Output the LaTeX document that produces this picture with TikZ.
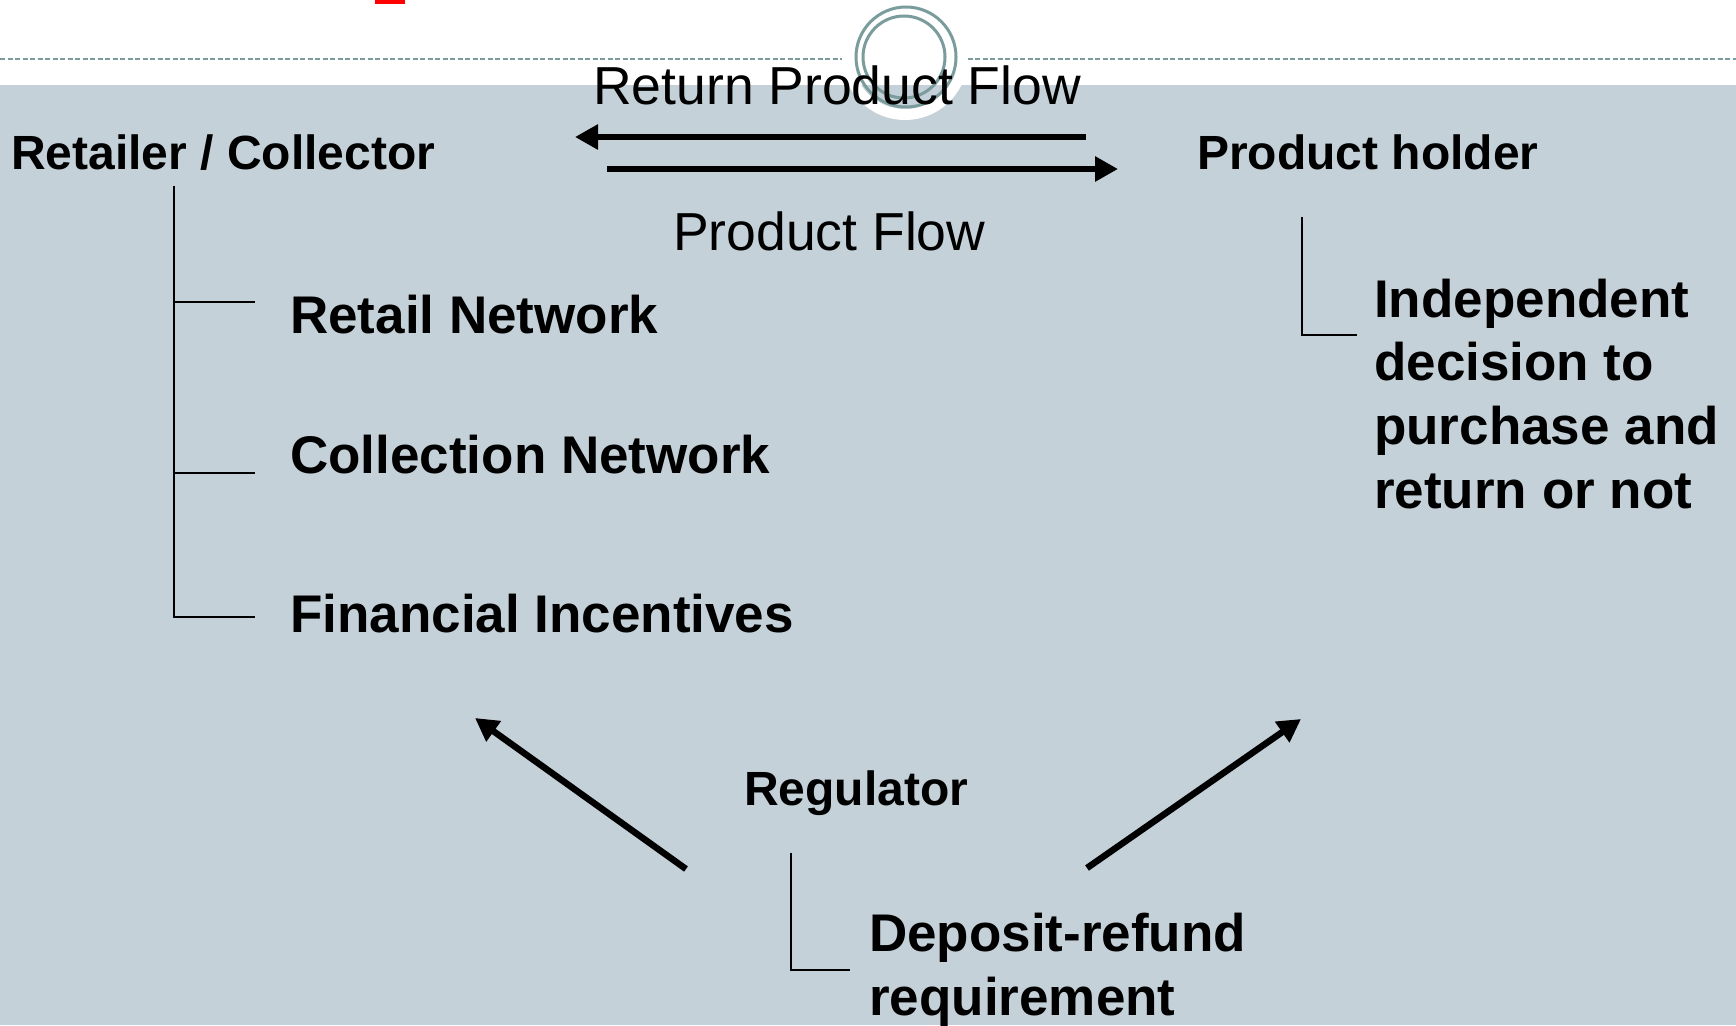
\documentclass[tikz,border=0pt]{standalone}
\usepackage{fontspec}
\setmainfont{Liberation Sans}
\usetikzlibrary{arrows.meta}
\usetikzlibrary{positioning}
\definecolor{slidebg}{RGB}{197,209,216}
\definecolor{ringcol}{RGB}{122,156,156}

\begin{document}
\begin{tikzpicture}
    [x=1pt, y=-1pt,
     head/.style={font=\fontsize{48}{57.6}\selectfont\bfseries, inner sep=0pt, anchor=base west},
     item/.style={font=\fontsize{53}{63.6}\selectfont\bfseries, inner sep=0pt, anchor=base west, align=left},
     flowtxt/.style={font=\fontsize{53.5}{64}\selectfont, inner sep=0pt, anchor=base west},
     flow/.style={-{Triangle[length=23pt, width=24pt]}, line width=6.5pt},
     tree/.style={line width=1.6pt}]

    \useasboundingbox (0,0) rectangle (1736,1025);

    % slide background and title decoration
    \fill[slidebg] (0,85) rectangle (1736,1025);
    \fill[red] (375,0) rectangle (405,4);
    \draw[ringcol, line width=1.5pt, dash pattern=on 5pt off 2.5pt] (0,59) -- (1736,59);
    \fill[white] (905,57) circle (63pt);
    \begin{scope}
        \clip (905,57) circle (52pt);
        \fill[slidebg] (800,85) rectangle (1000,130);
    \end{scope}
    \draw[ringcol, line width=3pt] (906,57) circle (50pt);
    \draw[ringcol, line width=3pt] (904,57) circle (41pt);

    \node[head] (rc) at (11,169) {Retailer / Collector};
    \node[head] (ph) at (1197,169) {Product holder};
    \node[flowtxt] (rpf) at (593,104) {Return Product Flow};
    \node[flowtxt] (pf) at (673,250) {Product Flow};

    \node[item] (rn) at (290,333) {Retail Network};
    \node[item] (cn) at (290,473) {Collection Network};
    \node[item] (fi) at (290,632) {Financial Incentives};
    % last line of each block sits on the given baseline
    \node[item] (idp) at (1374,508) {Independent\\decision to\\purchase and\\return or not};

    \node[head] (reg) at (744,805) {Regulator};
    \node[item] (dep) at (869,1015) {Deposit-refund\\requirement};

    % flows between retailer and holder
    \coordinate (rf-a) at (1086,137);
    \coordinate (rf-b) at (575,137);
    \coordinate (pf-a) at (607,169);
    \coordinate (pf-b) at (1118,169);
    \draw[flow] (rf-a) -- (rf-b);
    \draw[flow] (pf-a) -- (pf-b);

    % regulator arrows
    \coordinate (rg-l) at (686,869);
    \coordinate (rg-lt) at (475,718);
    \coordinate (rg-r) at (1087,868);
    \coordinate (rg-rt) at (1301,719);
    \draw[flow] (rg-l) -- (rg-lt);
    \draw[flow] (rg-r) -- (rg-rt);

    % trees
    \coordinate (rc-t) at (174,186);
    \coordinate (rc-1) at (255,302);
    \coordinate (rc-2) at (255,473);
    \coordinate (rc-3) at (255,617);
    \draw[tree] (rc-t) |- (rc-3);
    \draw[tree] (rc-t) |- (rc-1);
    \draw[tree] (rc-t) |- (rc-2);

    \coordinate (ph-t) at (1302,217);
    \coordinate (ph-1) at (1357,335);
    \draw[tree] (ph-t) |- (ph-1);

    \coordinate (reg-t) at (791,853);
    \coordinate (reg-1) at (850,970);
    \draw[tree] (reg-t) |- (reg-1);
\end{tikzpicture}
\end{document}
